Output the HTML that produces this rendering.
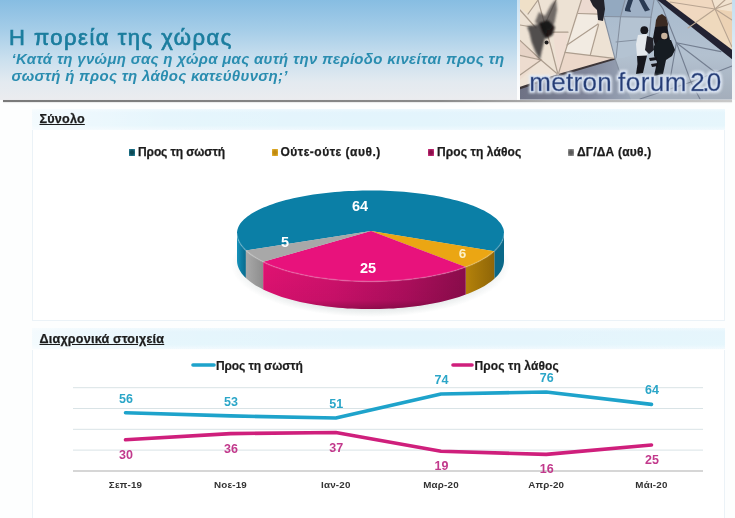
<!DOCTYPE html>
<html lang="el">
<head>
<meta charset="utf-8">
<title>Η πορεία της χώρας</title>
<style>
html,body{margin:0;padding:0;}
body{width:735px;height:518px;overflow:hidden;background:#fdfefe;position:relative;font-family:"Liberation Sans",sans-serif;}
#hdr{position:absolute;left:0;top:0;width:735px;height:100px;background:linear-gradient(to bottom,#87bde2 0%,#a5cde8 30%,#c9dfee 58%,#e3eaf0 82%,#ebecef 100%);}
#hline{position:absolute;left:2.5px;top:100px;width:729px;height:1.8px;background:linear-gradient(to right,#7a7a7a 0%,#8a8a8a 60%,#b0b0b0 75%,#c8c8c8 100%);box-shadow:0 0.5px 1.2px rgba(0,0,0,.15);}
#wstrip{position:absolute;left:516.8px;top:0;width:3px;height:100px;background:linear-gradient(to bottom,rgba(255,255,255,.55),rgba(255,255,255,.9));}
#title{position:absolute;left:9px;top:23px;font-size:22px;line-height:30px;color:#1b7d9e;white-space:nowrap;letter-spacing:1.5px;-webkit-text-stroke:0.7px #1b7d9e;}
.sub{position:absolute;left:11.5px;font-size:15px;line-height:16px;font-style:italic;font-weight:bold;color:#2a8db0;white-space:nowrap;letter-spacing:0.3px;}
#photo{position:absolute;left:519.5px;top:0;width:212px;height:99.5px;}
.bar{position:absolute;left:32px;width:693px;height:21px;background:linear-gradient(to right,rgba(255,255,255,.6) 0%,rgba(255,255,255,.35) 8%,rgba(255,255,255,.1) 20%,rgba(255,255,255,0) 50%,rgba(255,255,255,.1) 100%),linear-gradient(to bottom,#edf8fd 0%,#e3f4fc 18%,#e3f5fc 78%,#f0f9fe 100%);}
.panel{position:absolute;left:32px;width:691px;border:1px solid #ebf2f7;border-top:none;background:#fff;}
.sec{position:absolute;left:39.5px;font-size:12.6px;font-weight:bold;color:#1c1c1c;-webkit-text-stroke:0.25px #1c1c1c;text-decoration:underline;white-space:nowrap;line-height:14px;letter-spacing:0.2px;}
.lg{position:absolute;font-size:12px;font-weight:bold;color:#1c1c1c;white-space:nowrap;line-height:14px;-webkit-text-stroke:0.25px #1c1c1c;}
.mk{position:absolute;width:6.6px;height:6.8px;}
svg text{font-family:"Liberation Sans",sans-serif;}
#chart{position:absolute;left:0;top:0;filter:blur(0.45px);}
#title,.sub,.sec,.lg,.mk{filter:blur(0.4px);}
</style>
</head>
<body>
<div id="hdr"></div>
<div id="title">Η πορεία της χώρας</div>
<div class="sub" style="top:50.6px;">‘Κατά τη γνώμη σας η χώρα μας αυτή την περίοδο κινείται προς τη</div>
<div class="sub" style="top:67.8px;">σωστή ή προς τη λάθος κατεύθυνση;’</div>
<div id="wstrip2" style="position:absolute;left:731px;top:0;width:4px;height:100px;background:rgba(255,255,255,.5);"></div>
<svg id="photo" viewBox="0 0 212 99.5">
<defs>
<filter id="bl" x="-5%" y="-5%" width="110%" height="110%"><feGaussianBlur stdDeviation="0.55"/></filter>
<filter id="bl2" x="-20%" y="-20%" width="140%" height="140%"><feGaussianBlur stdDeviation="1.1"/></filter>
<filter id="blt" x="-5%" y="-20%" width="110%" height="140%"><feGaussianBlur stdDeviation="0.35"/></filter>
<filter id="tglow" x="-5%" y="-30%" width="110%" height="170%" color-interpolation-filters="sRGB">
<feMorphology in="SourceAlpha" operator="dilate" radius="1.5" result="d1"/>
<feGaussianBlur in="d1" stdDeviation="1.1" result="b1"/>
<feFlood flood-color="#e6edf7" flood-opacity="0.8"/><feComposite in2="b1" operator="in" result="g1"/>
<feMorphology in="SourceAlpha" operator="dilate" radius="1" result="d2"/>
<feGaussianBlur in="d2" stdDeviation="0.5" result="b2"/>
<feFlood flood-color="#d3deef" flood-opacity="0.9"/><feComposite in2="b2" operator="in" result="g2"/>
<feGaussianBlur in="SourceGraphic" stdDeviation="0.35" result="t"/>
<feMerge><feMergeNode in="g1"/><feMergeNode in="g2"/><feMergeNode in="t"/></feMerge>
</filter>
<linearGradient id="fl" x1="0" y1="0" x2="0" y2="1"><stop offset="0" stop-color="#a7bacd"/><stop offset="0.55" stop-color="#b3c1d0"/><stop offset="1" stop-color="#a3adba"/></linearGradient>
<linearGradient id="fd" x1="0" y1="0" x2="1" y2="0"><stop offset="0" stop-color="#6d7184"/><stop offset="0.6" stop-color="#80869a"/><stop offset="1" stop-color="#9aa6b8"/></linearGradient>
<clipPath id="pc"><rect x="0" y="0" width="212" height="99.5"/></clipPath>
</defs>
<g clip-path="url(#pc)">
<g filter="url(#bl)">
<rect x="-2" y="-2" width="216" height="104" fill="#ede2d4"/>
<!-- beige tiles tint -->
<polygon points="0,40 21,60 0,55" fill="#e6d3c6"/>
<polygon points="0,55 21,60 0,80" fill="#eddccf"/>
<polygon points="21,60 37,74.5 0,88 0,80" fill="#efe3d6"/>
<polygon points="45,52.5 94,58.5 38.5,74.5" fill="#ecd8ca"/>
<polygon points="33,32 48,32 45,52.5 38,74 " fill="#efddd2"/>
<polygon points="61,0 84,0 84,14 58,13.5" fill="#ecdad0"/>
<polygon points="58.5,13.5 79,14.5 70.5,54.5 45,52.5" fill="#f2ebe2"/>
<polygon points="0,0 18,0 8,14 0,8" fill="#efe0c8"/>
<!-- floor -->
<polygon points="83.8,-2 137,-2 214,56 214,102 -2,102 -2,88.5 38.2,74.8 95,58.6 83.8,16.5" fill="url(#fl)"/>
<polygon points="-2,88.5 38.2,74.8 95,58.6 100,72 112,102 -2,102" fill="url(#fd)"/>
<polygon points="84,0 105,0 100,17 84,16" fill="#93a9c0"/>
<polygon points="100,17 105,0 134,0 131,17" fill="#9fb1c6"/>
<polygon points="100,17 131,17 128,50 103,58 95,58" fill="#b4c3d2"/>
<!-- right beige triangle -->
<polygon points="140,-2 214,-2 214,54" fill="#efd9bd"/>
<polygon points="175,-2 214,-2 214,12 195,9" fill="#f1e2cf"/>
<polygon points="195,9 214,12 214,48" fill="#ecd2b4"/>
<polygon points="150,2 192,-2 195,9 168,24" fill="#f0d8c0"/>
<!-- dark edge right -->
<polygon points="135,-2 143,-2 213,50.5 213,60" fill="#222231"/>
<!-- dark edge lower-left -->
<polygon points="-2,87.6 38.2,73.9 95,57.7 95.4,59.4 38.6,76.2 -2,90" fill="#3d3638"/>
<!-- lines on beige (left) -->
<g stroke="#ad9e8f" stroke-width="1.2" fill="none" stroke-linecap="round">
<path d="M18,0 L31.5,49 L38,74.5"/>
<path d="M61.4,0 L45,52.4 L38.2,74.5"/>
<path d="M45,52.4 L94,58.4"/>
<path d="M0,40.4 L21,60 L37.5,74"/>
<path d="M0,55.4 L21,60 L0,75"/>
<path d="M78.6,24.7 L70.4,54.6"/>
<path d="M58.4,13.5 L79.3,14.2"/>
<path d="M33,32.2 L48,32.2"/>
<path d="M47,45 L78,24"/>
<path d="M0,10 L16,28"/>
<path d="M0,25 L12,27"/>
<path d="M18,0 L8,14"/>
<path d="M36,0 L26,22"/>
</g>
<!-- boundary beige/floor -->
<g stroke="#8590a0" stroke-width="1.1" fill="none" stroke-linecap="round">
<path d="M83.8,16.5 L95,58.6 L101,76"/>
<path d="M84,16.5 L131,17.2"/>
<path d="M100.5,17 L96,58"/>
<path d="M131,17 L128,52"/>
<path d="M105,0 L100.5,17"/>
<path d="M134,0 L131,17"/>
<path d="M96,42 L116,40"/>
</g>
<!-- lines on floor (right star) -->
<g stroke="#737e90" stroke-width="1.1" fill="none" stroke-linecap="round">
<path d="M137,0 L143,9 L156.4,42.7"/>
<path d="M156.4,42.7 L201,51.6"/>
<path d="M156.4,42.7 L196,73"/>
<path d="M156.4,42.7 L171,82"/>
<path d="M156.4,42.7 L150,80"/>
<path d="M171,82 L212,66"/>
<path d="M120,99 L171,82"/>
<path d="M171,82 L180,99"/>
</g>
<!-- lines on right beige -->
<g stroke="#b8a491" stroke-width="1.1" fill="none" stroke-linecap="round">
<path d="M195,9 L192,0"/>
<path d="M195,9 L212,3"/>
<path d="M195,9 L212,20"/>
<path d="M195,9 L212,47"/>
<path d="M195,9 L168,28"/>
<path d="M195,9 L150,2"/>
<path d="M195,9 L205,0"/>
</g>
</g>
<!-- left smudge figure -->
<g filter="url(#bl2)">
<polygon points="7,26.5 22,23.5 27,30 24.5,40 21.5,52 20,60 15.5,52 11.5,42 9.5,33" fill="#403e3e" opacity="0.9"/>
<polygon points="15,22 19,12 25,16 31,5 36,-1 37,10 34.5,23 30,30 23,28" fill="#3c3838" opacity="0.7"/>
<polygon points="19,23 28,20 35,27 32.5,35 26,39 22,32" fill="#141212" opacity="0.95"/>
</g>
<g filter="url(#bl)">
<circle cx="26.6" cy="42.5" r="2" fill="#1d1a1c"/>
<!-- top person on boundary -->
<polygon points="70,0 84,0 85,9 83,21 78,20 77,10 73,6" fill="#24242c"/>
<!-- legs at top -->
<polygon points="108,0 113,0 110,9 111,12 105,11 105,9" fill="#2c3a52"/>
<polygon points="119,0 124,0 128,7 130,10 125,11.5 123,8" fill="#2c3a52"/>
<!-- person A -->
<circle cx="124.3" cy="30.2" r="3.9" fill="#17171d"/>
<polygon points="118,35 127,34 129,44 127,56 117,56 116,44" fill="#e4e8ec"/>
<polygon points="127,36 133,38 134,50 129,54 125,50" fill="#22242c"/>
<polygon points="117,56 127,55.5 125,64 123,73 116,74 117.5,64" fill="#15161c"/>
<!-- person B -->
<polygon points="138,16 142,14 146,17 148,24 147,32 139,34 135,28 136,20" fill="#3a2c24"/>
<polygon points="135,27 147,26 150,40 146,52 136,50 133,38" fill="#17181e"/>
<!-- person C -->
<circle cx="144.3" cy="36" r="3.2" fill="#c9b29c"/>
<polygon points="138,40 151,40 155,50 152,56 146,60 143,74 134,76 137,62 134,56 134,46" fill="#191a20"/>
<polygon points="129,58 137,57 137,60 130,61" fill="#15161c"/>
<polygon points="131,64 138,63 138,66 132,67" fill="#15161c"/>
</g>
<!-- text -->
<text y="90.6" font-size="26" fill="#253c74" stroke="#7f93bd" stroke-width="0.3" stroke-linejoin="round" filter="url(#tglow)"><tspan x="9.3" letter-spacing="0.3">metron</tspan> <tspan x="98" letter-spacing="0.5">forum</tspan> <tspan x="170.3" letter-spacing="-2.6">2.0</tspan></text>
</g>

</svg>
<div id="wstrip"></div>
<div id="hline"></div>

<div class="bar" style="top:108.6px;"></div>
<div class="panel" style="top:130px;height:190px;"></div>
<div class="sec" style="top:112px;">Σύνολο</div>

<div class="mk" style="left:128.7px;top:148.8px;background:radial-gradient(ellipse at center,#0c4a55 0%,#0c4a55 35%,#2f8fae 100%);"></div>
<div class="lg" style="left:138px;top:145.4px;letter-spacing:-0.1px;">Προς τη σωστή</div>
<div class="mk" style="left:271.7px;top:148.8px;background:radial-gradient(ellipse at center,#c08a10 0%,#c08a10 35%,#f0c040 100%);"></div>
<div class="lg" style="left:280.5px;top:145.4px;letter-spacing:0.5px;">Ούτε-ούτε (αυθ.)</div>
<div class="mk" style="left:427.7px;top:148.8px;background:radial-gradient(ellipse at center,#8a0f4a 0%,#8a0f4a 35%,#e0408f 100%);"></div>
<div class="lg" style="left:437px;top:145.4px;letter-spacing:0.1px;">Προς τη λάθος</div>
<div class="mk" style="left:567.7px;top:148.8px;background:radial-gradient(ellipse at center,#5a5a5a 0%,#5a5a5a 35%,#b0b0b0 100%);"></div>
<div class="lg" style="left:577px;top:145.4px;letter-spacing:0.2px;">ΔΓ/ΔΑ (αυθ.)</div>

<div class="bar" style="top:328px;"></div>
<div class="panel" style="top:350px;height:170px;"></div>
<div class="sec" style="top:332px;">Διαχρονικά στοιχεία</div>

<svg id="chart" width="735" height="518" viewBox="0 0 735 518">
<defs>
<linearGradient id="gB" x1="0" y1="0" x2="1" y2="0"><stop offset="0" stop-color="#0f86ab"/><stop offset="0.04" stop-color="#0a6f92"/><stop offset="0.5" stop-color="#0b7799"/><stop offset="0.96" stop-color="#0a6a8c"/><stop offset="1" stop-color="#085a78"/></linearGradient>
<linearGradient id="gP" x1="0" y1="0" x2="1" y2="0"><stop offset="0" stop-color="#e01272"/><stop offset="0.35" stop-color="#cf116c"/><stop offset="0.7" stop-color="#b00e5e"/><stop offset="1" stop-color="#8c0c4c"/></linearGradient>
<linearGradient id="gPv" x1="0" y1="0" x2="0" y2="1"><stop offset="0" stop-color="#000" stop-opacity="0"/><stop offset="0.8" stop-color="#000" stop-opacity="0.05"/><stop offset="1" stop-color="#000" stop-opacity="0.25"/></linearGradient>
<linearGradient id="gY" x1="0" y1="0" x2="1" y2="0"><stop offset="0" stop-color="#b5820a"/><stop offset="1" stop-color="#8f6608"/></linearGradient>
<linearGradient id="gG" x1="0" y1="0" x2="1" y2="0"><stop offset="0" stop-color="#a9a9a9"/><stop offset="1" stop-color="#8d8d8d"/></linearGradient>
<radialGradient id="sh" cx="0.5" cy="0.5" r="0.5"><stop offset="0.8" stop-color="#9aa" stop-opacity="0.35"/><stop offset="1" stop-color="#9aa" stop-opacity="0"/></radialGradient>
<linearGradient id="gB2" x1="0" y1="0" x2="1" y2="0"><stop offset="0" stop-color="#1792bb"/><stop offset="0.5" stop-color="#0c7ca2"/><stop offset="1" stop-color="#0a6a8c"/></linearGradient>
</defs>
<ellipse cx="370.5" cy="264.6" rx="139.5" ry="52.5" fill="url(#sh)"/>
<path d="M504.0,233.0 L503.9,234.6 L503.7,236.1 L503.4,237.6 L502.9,239.2 L502.3,240.7 L501.5,242.3 L500.7,243.8 L499.6,245.3 L498.5,246.8 L497.2,248.3 L495.8,249.7 L494.3,251.2 L494.3,278.8 L495.8,277.3 L497.2,275.9 L498.5,274.4 L499.6,272.9 L500.7,271.4 L501.5,269.9 L502.3,268.3 L502.9,266.8 L503.4,265.2 L503.7,263.7 L503.9,262.2 L504.0,260.6Z" fill="#0a6888"/>
<path d="M245.9,250.4 L244.3,248.9 L243.0,247.3 L241.7,245.8 L240.6,244.2 L239.7,242.6 L238.8,241.0 L238.2,239.4 L237.7,237.8 L237.3,236.2 L237.1,234.6 L237.0,233.0 L237.0,260.6 L237.1,262.2 L237.3,263.8 L237.7,265.4 L238.2,267.0 L238.8,268.6 L239.7,270.2 L240.6,271.8 L241.7,273.4 L243.0,274.9 L244.3,276.5 L245.9,278.0Z" fill="url(#gB2)"/>
<path d="M494.3,251.2 L492.6,252.6 L490.7,254.1 L488.8,255.5 L486.7,256.9 L484.5,258.3 L482.1,259.6 L479.7,260.9 L477.1,262.2 L474.4,263.4 L471.6,264.7 L468.7,265.8 L465.7,267.0 L465.7,294.6 L468.7,293.4 L471.6,292.3 L474.4,291.0 L477.1,289.8 L479.7,288.5 L482.1,287.2 L484.5,285.9 L486.7,284.5 L488.8,283.1 L490.7,281.7 L492.6,280.2 L494.3,278.8Z" fill="url(#gY)"/>
<path d="M263.2,261.8 L260.6,260.5 L258.1,259.1 L255.7,257.8 L253.5,256.3 L251.4,254.9 L249.4,253.4 L247.6,251.9 L245.9,250.4 L245.9,278.0 L247.6,279.5 L249.4,281.0 L251.4,282.5 L253.5,283.9 L255.7,285.4 L258.1,286.7 L260.6,288.1 L263.2,289.4Z" fill="url(#gG)"/>
<path d="M465.7,267.0 L462.4,268.2 L459.0,269.3 L455.5,270.4 L451.9,271.4 L448.2,272.4 L444.4,273.4 L440.5,274.3 L436.6,275.1 L432.5,275.9 L428.4,276.7 L424.2,277.4 L419.9,278.1 L415.6,278.6 L411.3,279.2 L406.8,279.7 L402.4,280.1 L397.9,280.5 L393.4,280.8 L388.8,281.0 L384.2,281.2 L379.6,281.4 L375.0,281.5 L370.4,281.5 L365.8,281.5 L361.2,281.4 L356.6,281.2 L352.0,281.0 L347.5,280.8 L342.9,280.5 L338.4,280.1 L334.0,279.6 L329.6,279.2 L325.2,278.6 L320.9,278.0 L316.6,277.4 L312.4,276.7 L308.3,275.9 L304.3,275.1 L300.3,274.3 L296.4,273.3 L292.6,272.4 L288.9,271.4 L285.3,270.3 L281.8,269.3 L278.4,268.1 L275.2,266.9 L272.0,265.7 L268.9,264.5 L266.0,263.2 L263.2,261.8 L263.2,289.4 L266.0,290.8 L268.9,292.1 L272.0,293.3 L275.2,294.5 L278.4,295.7 L281.8,296.9 L285.3,297.9 L288.9,299.0 L292.6,300.0 L296.4,300.9 L300.3,301.9 L304.3,302.7 L308.3,303.5 L312.4,304.3 L316.6,305.0 L320.9,305.6 L325.2,306.2 L329.6,306.8 L334.0,307.2 L338.4,307.7 L342.9,308.1 L347.5,308.4 L352.0,308.6 L356.6,308.8 L361.2,309.0 L365.8,309.1 L370.4,309.1 L375.0,309.1 L379.6,309.0 L384.2,308.8 L388.8,308.6 L393.4,308.4 L397.9,308.1 L402.4,307.7 L406.8,307.3 L411.3,306.8 L415.6,306.2 L419.9,305.7 L424.2,305.0 L428.4,304.3 L432.5,303.5 L436.6,302.7 L440.5,301.9 L444.4,301.0 L448.2,300.0 L451.9,299.0 L455.5,298.0 L459.0,296.9 L462.4,295.8 L465.7,294.6Z" fill="url(#gP)"/>
<path d="M465.7,267.0 L462.4,268.2 L459.0,269.3 L455.5,270.4 L451.9,271.4 L448.2,272.4 L444.4,273.4 L440.5,274.3 L436.6,275.1 L432.5,275.9 L428.4,276.7 L424.2,277.4 L419.9,278.1 L415.6,278.6 L411.3,279.2 L406.8,279.7 L402.4,280.1 L397.9,280.5 L393.4,280.8 L388.8,281.0 L384.2,281.2 L379.6,281.4 L375.0,281.5 L370.4,281.5 L365.8,281.5 L361.2,281.4 L356.6,281.2 L352.0,281.0 L347.5,280.8 L342.9,280.5 L338.4,280.1 L334.0,279.6 L329.6,279.2 L325.2,278.6 L320.9,278.0 L316.6,277.4 L312.4,276.7 L308.3,275.9 L304.3,275.1 L300.3,274.3 L296.4,273.3 L292.6,272.4 L288.9,271.4 L285.3,270.3 L281.8,269.3 L278.4,268.1 L275.2,266.9 L272.0,265.7 L268.9,264.5 L266.0,263.2 L263.2,261.8 L263.2,289.4 L266.0,290.8 L268.9,292.1 L272.0,293.3 L275.2,294.5 L278.4,295.7 L281.8,296.9 L285.3,297.9 L288.9,299.0 L292.6,300.0 L296.4,300.9 L300.3,301.9 L304.3,302.7 L308.3,303.5 L312.4,304.3 L316.6,305.0 L320.9,305.6 L325.2,306.2 L329.6,306.8 L334.0,307.2 L338.4,307.7 L342.9,308.1 L347.5,308.4 L352.0,308.6 L356.6,308.8 L361.2,309.0 L365.8,309.1 L370.4,309.1 L375.0,309.1 L379.6,309.0 L384.2,308.8 L388.8,308.6 L393.4,308.4 L397.9,308.1 L402.4,307.7 L406.8,307.3 L411.3,306.8 L415.6,306.2 L419.9,305.7 L424.2,305.0 L428.4,304.3 L432.5,303.5 L436.6,302.7 L440.5,301.9 L444.4,301.0 L448.2,300.0 L451.9,299.0 L455.5,298.0 L459.0,296.9 L462.4,295.8 L465.7,294.6Z" fill="url(#gPv)"/>
<path d="M371.0,231.0 L245.9,250.4 L244.3,248.8 L242.8,247.2 L241.6,245.6 L240.4,243.9 L239.5,242.3 L238.7,240.6 L238.0,239.0 L237.5,237.3 L237.2,235.6 L237.0,233.9 L237.0,232.3 L237.2,230.9 L237.5,229.4 L238.0,227.9 L238.6,226.4 L239.4,225.0 L240.3,223.5 L241.5,222.1 L242.7,220.7 L244.1,219.3 L245.7,217.9 L247.4,216.5 L249.3,215.2 L251.3,213.8 L253.5,212.5 L255.8,211.3 L258.2,210.0 L260.8,208.8 L263.5,207.6 L266.4,206.4 L269.3,205.3 L272.4,204.2 L275.6,203.1 L278.9,202.1 L282.4,201.1 L285.9,200.1 L289.5,199.2 L293.3,198.3 L297.1,197.5 L301.0,196.7 L305.0,196.0 L309.1,195.3 L313.3,194.6 L317.5,194.0 L321.8,193.4 L326.1,192.9 L330.5,192.4 L335.0,192.0 L339.5,191.7 L344.0,191.3 L348.6,191.1 L353.2,190.9 L357.8,190.7 L362.4,190.6 L367.0,190.5 L371.7,190.5 L376.3,190.5 L380.9,190.6 L385.6,190.8 L390.2,191.0 L394.7,191.2 L399.3,191.5 L403.8,191.8 L408.3,192.2 L412.7,192.7 L417.1,193.2 L421.4,193.7 L425.6,194.3 L429.8,194.9 L433.9,195.6 L438.0,196.3 L441.9,197.1 L445.8,197.9 L449.6,198.8 L453.3,199.7 L456.9,200.6 L460.4,201.6 L463.7,202.6 L467.0,203.6 L470.2,204.7 L473.2,205.8 L476.1,207.0 L478.9,208.2 L481.5,209.4 L484.0,210.6 L486.4,211.9 L488.6,213.2 L490.7,214.5 L492.7,215.9 L494.4,217.2 L496.1,218.6 L497.6,220.0 L498.9,221.4 L500.1,222.8 L501.2,224.3 L502.0,225.7 L502.7,227.2 L503.3,228.6 L503.7,230.1 L503.9,231.6 L504.0,233.1 L503.9,234.8 L503.7,236.5 L503.3,238.1 L502.7,239.8 L502.0,241.5 L501.1,243.1 L500.0,244.8 L498.8,246.4 L497.5,248.0 L495.9,249.6 L494.3,251.2Z" fill="#0b7fa6"/>
<path d="M371.0,231.0 L494.3,251.2 L492.6,252.6 L490.7,254.1 L488.8,255.5 L486.7,256.9 L484.5,258.3 L482.1,259.6 L479.7,260.9 L477.1,262.2 L474.4,263.4 L471.6,264.7 L468.7,265.8 L465.7,267.0Z" fill="#eba613"/>
<path d="M371.0,231.0 L465.7,267.0 L462.4,268.2 L459.0,269.3 L455.5,270.4 L451.9,271.4 L448.2,272.4 L444.4,273.4 L440.5,274.3 L436.6,275.1 L432.5,275.9 L428.4,276.7 L424.2,277.4 L419.9,278.1 L415.6,278.6 L411.3,279.2 L406.8,279.7 L402.4,280.1 L397.9,280.5 L393.4,280.8 L388.8,281.0 L384.2,281.2 L379.6,281.4 L375.0,281.5 L370.4,281.5 L365.8,281.5 L361.2,281.4 L356.6,281.2 L352.0,281.0 L347.5,280.8 L342.9,280.5 L338.4,280.1 L334.0,279.6 L329.6,279.2 L325.2,278.6 L320.9,278.0 L316.6,277.4 L312.4,276.7 L308.3,275.9 L304.3,275.1 L300.3,274.3 L296.4,273.3 L292.6,272.4 L288.9,271.4 L285.3,270.3 L281.8,269.3 L278.4,268.1 L275.2,266.9 L272.0,265.7 L268.9,264.5 L266.0,263.2 L263.2,261.8Z" fill="#e8127c"/>
<path d="M371.0,231.0 L263.2,261.8 L260.6,260.5 L258.1,259.1 L255.7,257.8 L253.5,256.3 L251.4,254.9 L249.4,253.4 L247.6,251.9 L245.9,250.4Z" fill="#a8a8a8"/>
<path d="M504.0,233.0 L503.9,234.7 L503.7,236.3 L503.3,238.0 L502.7,239.7 L502.0,241.3 L501.1,243.0 L500.1,244.6 L498.9,246.2 L497.6,247.8 L496.1,249.4 L494.5,251.0 L492.7,252.5 L490.8,254.0 L488.7,255.5 L486.5,257.0 L484.1,258.4 L481.7,259.9 L479.0,261.2 L476.3,262.6 L473.4,263.9 L470.4,265.2 L467.3,266.4 L464.1,267.6 L460.7,268.7 L457.3,269.9 L453.7,270.9 L450.1,271.9 L446.3,272.9 L442.5,273.8 L438.6,274.7 L434.6,275.5 L430.5,276.3 L426.3,277.1 L422.1,277.7 L417.8,278.3 L413.5,278.9 L409.1,279.4 L404.7,279.9 L400.2,280.3 L395.7,280.6 L391.2,280.9 L386.6,281.1 L382.0,281.3 L377.4,281.4 L372.8,281.5 L368.2,281.5 L363.6,281.4 L359.0,281.3 L354.4,281.1 L349.8,280.9 L345.3,280.6 L340.8,280.3 L336.3,279.9 L331.9,279.4 L327.5,278.9 L323.2,278.3 L318.9,277.7 L314.7,277.1 L310.5,276.3 L306.4,275.5 L302.4,274.7 L298.5,273.8 L294.7,272.9 L290.9,271.9 L287.3,270.9 L283.7,269.9 L280.3,268.7 L276.9,267.6 L273.7,266.4 L270.6,265.2 L267.6,263.9 L264.7,262.6 L262.0,261.2 L259.3,259.9 L256.9,258.4 L254.5,257.0 L252.3,255.5 L250.2,254.0 L248.3,252.5 L246.5,251.0 L244.9,249.4 L243.4,247.8 L242.1,246.2 L240.9,244.6 L239.9,243.0 L239.0,241.3 L238.3,239.7 L237.7,238.0 L237.3,236.3 L237.1,234.7 L237.0,233.0" fill="none" stroke="#fff" stroke-opacity="0.18" stroke-width="1.6"/>
<text x="360" y="211" font-size="14.5" font-weight="bold" fill="#fff" text-anchor="middle">64</text>
<text x="368" y="273.3" font-size="14.5" font-weight="bold" fill="#fff" text-anchor="middle">25</text>
<text x="285" y="247" font-size="14.5" font-weight="bold" fill="#fff" text-anchor="middle">5</text>
<text x="462.5" y="258" font-size="13.5" font-weight="bold" fill="#fbf0c8" text-anchor="middle">6</text>
<line x1="73" x2="703" y1="387.7" y2="387.7" stroke="#d9e3e6" stroke-width="1"/>
<line x1="73" x2="703" y1="408.5" y2="408.5" stroke="#d9e3e6" stroke-width="1"/>
<line x1="73" x2="703" y1="429.3" y2="429.3" stroke="#d9e3e6" stroke-width="1"/>
<line x1="73" x2="703" y1="450.1" y2="450.1" stroke="#d9e3e6" stroke-width="1"/>
<line x1="73" x2="703" y1="471.0" y2="471.0" stroke="#adadad" stroke-width="1.15"/>
<polyline points="125.5,412.8 230.5,415.9 335.8,418.0 441.0,394.0 546.2,392.0 651.5,404.4" fill="none" stroke="#1ea3cb" stroke-width="3.6" stroke-linecap="round" stroke-linejoin="round"/>
<polyline points="125.5,439.8 230.5,433.6 335.8,432.5 441.0,451.2 546.2,454.4 651.5,445.0" fill="none" stroke="#cf1f7c" stroke-width="3.6" stroke-linecap="round" stroke-linejoin="round"/>
<text x="126.0" y="402.6" font-size="12.5" font-weight="bold" fill="#2ba6c8" text-anchor="middle">56</text>
<text x="231.0" y="405.7" font-size="12.5" font-weight="bold" fill="#2ba6c8" text-anchor="middle">53</text>
<text x="336.3" y="407.8" font-size="12.5" font-weight="bold" fill="#2ba6c8" text-anchor="middle">51</text>
<text x="441.5" y="383.8" font-size="12.5" font-weight="bold" fill="#2ba6c8" text-anchor="middle">74</text>
<text x="546.7" y="381.8" font-size="12.5" font-weight="bold" fill="#2ba6c8" text-anchor="middle">76</text>
<text x="652.0" y="394.2" font-size="12.5" font-weight="bold" fill="#2ba6c8" text-anchor="middle">64</text>
<text x="126.0" y="458.8" font-size="12.5" font-weight="bold" fill="#c2398c" text-anchor="middle">30</text>
<text x="231.0" y="452.6" font-size="12.5" font-weight="bold" fill="#c2398c" text-anchor="middle">36</text>
<text x="336.3" y="451.5" font-size="12.5" font-weight="bold" fill="#c2398c" text-anchor="middle">37</text>
<text x="441.5" y="470.2" font-size="12.5" font-weight="bold" fill="#c2398c" text-anchor="middle">19</text>
<text x="546.7" y="473.4" font-size="12.5" font-weight="bold" fill="#c2398c" text-anchor="middle">16</text>
<text x="652.0" y="464.0" font-size="12.5" font-weight="bold" fill="#c2398c" text-anchor="middle">25</text>
<text x="125.5" y="487.5" font-size="9.8" letter-spacing="0.2" font-weight="bold" fill="#333" text-anchor="middle">Σεπ-19</text>
<text x="230.5" y="487.5" font-size="9.8" letter-spacing="0.2" font-weight="bold" fill="#333" text-anchor="middle">Νοε-19</text>
<text x="335.8" y="487.5" font-size="9.8" letter-spacing="0.2" font-weight="bold" fill="#333" text-anchor="middle">Ιαν-20</text>
<text x="441" y="487.5" font-size="9.8" letter-spacing="0.2" font-weight="bold" fill="#333" text-anchor="middle">Μαρ-20</text>
<text x="546.2" y="487.5" font-size="9.8" letter-spacing="0.2" font-weight="bold" fill="#333" text-anchor="middle">Απρ-20</text>
<text x="651.5" y="487.5" font-size="9.8" letter-spacing="0.2" font-weight="bold" fill="#333" text-anchor="middle">Μάι-20</text>
<line x1="193" x2="214" y1="365" y2="365" stroke="#1ea3cb" stroke-width="3.6" stroke-linecap="round"/>
<text x="216" y="369.5" font-size="12" letter-spacing="-0.12" font-weight="bold" fill="#1c1c1c" stroke="#1c1c1c" stroke-width="0.2">Προς τη σωστή</text>
<line x1="453" x2="472" y1="365" y2="365" stroke="#cf1f7c" stroke-width="3.6" stroke-linecap="round"/>
<text x="474.5" y="369.5" font-size="12" letter-spacing="0.1" font-weight="bold" fill="#1c1c1c" stroke="#1c1c1c" stroke-width="0.2">Προς τη λάθος</text>
</svg>
</body>
</html>
